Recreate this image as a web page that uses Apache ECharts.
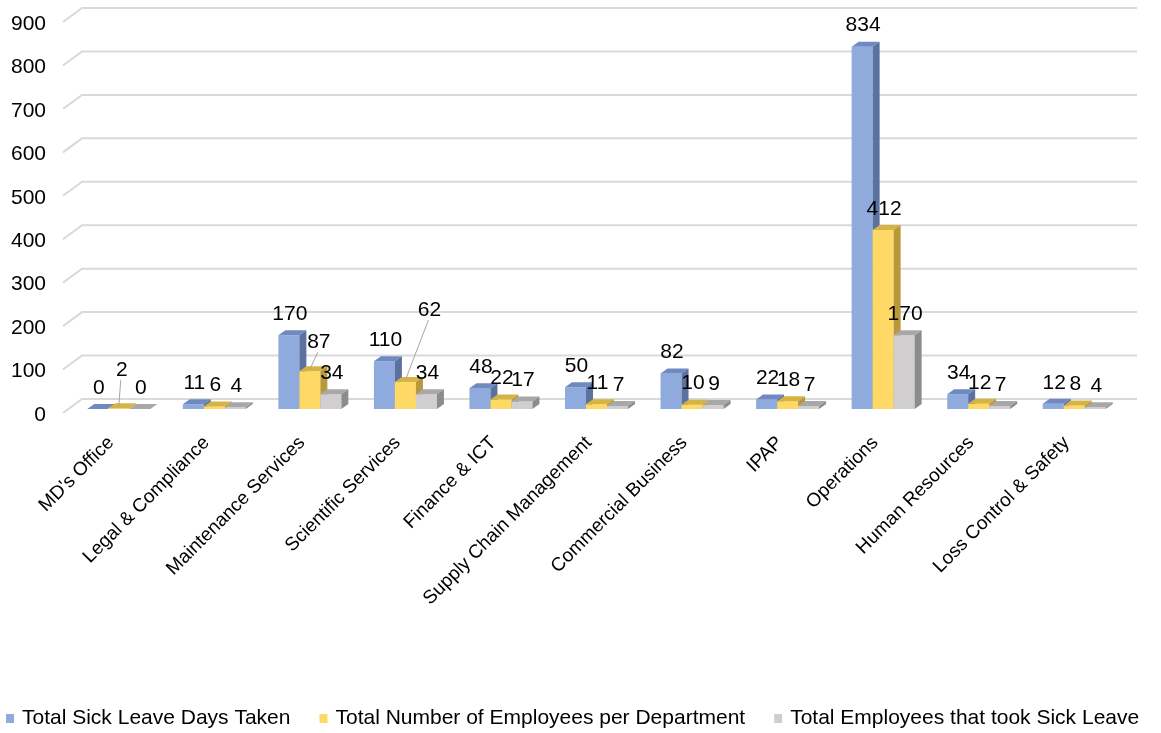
<!DOCTYPE html>
<html><head><meta charset="utf-8">
<script src="https://cdn.jsdelivr.net/npm/echarts@6/dist/echarts.min.js"></script>
<style>html,body{margin:0;padding:0;background:#fff}#c{width:1161px;height:733px}</style>
</head><body><div id="c"></div>
<script>
// ---- data ----
const categories = ["MD's Office","Legal & Compliance","Maintenance Services","Scientific Services","Finance & ICT","Supply Chain Management","Commercial Business","IPAP","Operations","Human Resources","Loss Control & Safety"];
const sickLeaveDays = [0,11,170,110,48,50,82,22,834,34,12];
const employeesPerDept = [2,6,87,62,22,11,10,18,412,12,8];
const employeesTookLeave = [0,4,34,34,17,7,9,7,170,7,4];
const seriesNames = ["Total Sick Leave Days Taken","Total Number of Employees per Department","Total Employees that took Sick Leave"];
const yTicks = [0,100,200,300,400,500,600,700,800,900];

// ---- style / layout ----
const FONT = '"Liberation Sans", Arial, sans-serif';
const W = 1161;
const GRID = {left:71, right:39, top:18, bottom:324};
const BAR_W = 21, DX = 7, DY = 5;
const palettes = [
  {front:'#8FAADC', top:'#6F8AC2', side:'#5B719F'},
  {front:'#FFD966', top:'#D6B443', side:'#B8983A'},
  {front:'#D0CECE', top:'#A8A8A8', side:'#8C8C8C'}
];
// labels moved off their default place (with leader lines), like the source
const callouts = {'1-0':{dx:2,dy:-17}, '1-2':{dx:8,dy:-8}, '1-3':{dx:23,dy:-51}};

const seriesValues = [sickLeaveDays, employeesPerDept, employeesTookLeave];

function barRenderer(s){
  return function(params, api){
    const i = api.value(0), v = api.value(1);
    const top = api.coord([i, v]);
    const base = api.coord([i, 0]);
    const x0 = top[0] - 1.5*BAR_W + s*BAR_W;
    const yt = top[1], yb = base[1];
    const p = palettes[s];
    const children = [
      {type:'rect', shape:{x:x0, y:yt, width:BAR_W, height:yb-yt}, style:{fill:p.front}},
      {type:'polygon', shape:{points:[[x0,yt],[x0+DX,yt-DY],[x0+BAR_W+DX,yt-DY],[x0+BAR_W,yt]]}, style:{fill:p.top}},
      {type:'polygon', shape:{points:[[x0+BAR_W,yt],[x0+BAR_W+DX,yt-DY],[x0+BAR_W+DX,yb-DY],[x0+BAR_W,yb]]}, style:{fill:p.side}}
    ];
    const key = s + '-' + i;
    const c = callouts[key] || {dx:0, dy:0};
    const lx = x0 + BAR_W/2 + 1 + c.dx, ly = yt - 21 + c.dy;
    if (callouts[key]) {
      children.push({type:'line', z2:50, shape:{x1:lx - 1, y1:ly + 10, x2:x0 + BAR_W/2, y2:yt - 2},
        style:{stroke:'#A6A6A6', lineWidth:1}});
    }
    children.push({type:'text', z2:100, style:{text:String(v), x:lx, y:ly,
      align:'center', verticalAlign:'middle', textAlign:'center', textVerticalAlign:'middle',
      font:'21px ' + FONT, fill:'#000'}});
    return {type:'group', children};
  };
}

function gridRenderer(params, api){
  const v = api.value(1);
  const y = api.coord([0, v])[1];
  return {type:'group', children:[
    {type:'polyline', shape:{points:[[GRID.left-8, y+4],[GRID.left+11, y-10],[W-GRID.right+15, y-10]]},
      style:{stroke:'#D9D9D9', lineWidth:2, fill:null}},
    {type:'text', style:{text:String(v), x:GRID.left-25, y:y+6,
      align:'right', verticalAlign:'middle', textAlign:'right', textVerticalAlign:'middle',
      font:'21px ' + FONT, fill:'#000'}}
  ]};
}

const series = [{
  type:'custom', name:'grid', z:1, silent:true,
  renderItem:gridRenderer,
  data: yTicks.map(v => [0, v])
}];
seriesValues.forEach((vals, s) => {
  series.push({
    type:'custom', name:seriesNames[s], z:2,
    itemStyle:{color:palettes[s].front},
    renderItem:barRenderer(s),
    data: vals.map((v, i) => [i, v])
  });
});

const chart = echarts.init(document.getElementById('c'), null, {renderer:'canvas'});
chart.setOption({
  animation:false,
  backgroundColor:'#fff',
  grid:{left:GRID.left, right:GRID.right, top:GRID.top, bottom:GRID.bottom, containLabel:false},
  legend:{
    data:seriesNames, icon:'rect', itemWidth:8, itemHeight:9, left:1, top:703, itemGap:29,
    textStyle:{fontSize:21, fontFamily:FONT, color:'#000', padding:[0,0,0,3]}
  },
  xAxis:{
    type:'category', data:categories,
    axisLine:{show:false}, axisTick:{show:false}, splitLine:{show:false},
    axisLabel:{rotate:45, interval:0, margin:23, padding:[0,11,0,0], fontSize:19, fontFamily:FONT, color:'#000'}
  },
  yAxis:{
    type:'value', min:0, max:900, interval:100,
    axisLine:{show:false}, axisTick:{show:false}, splitLine:{show:false},
    axisLabel:{show:false}
  },
  series
});
</script></body></html>
